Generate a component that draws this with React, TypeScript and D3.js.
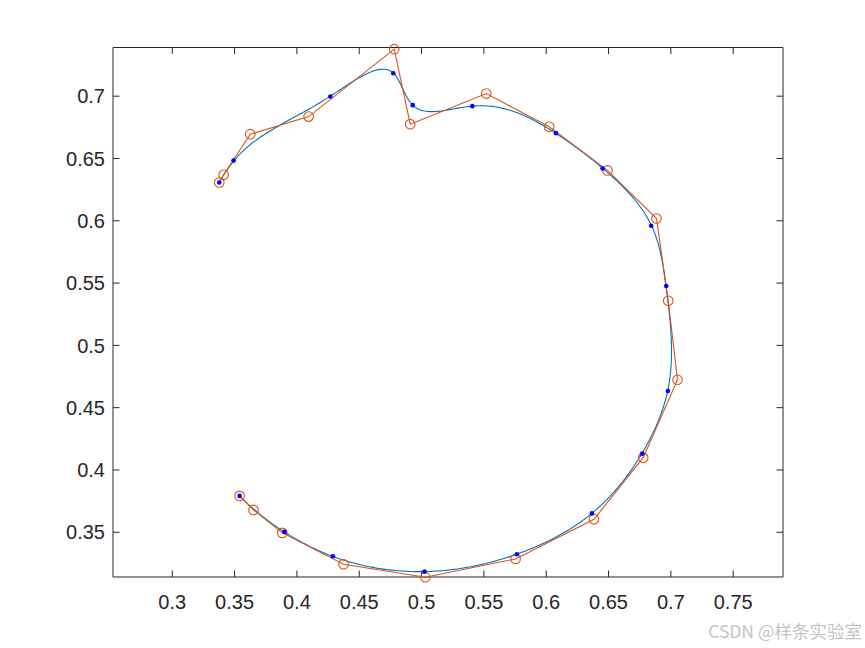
import React from "react";
import * as d3 from "d3";

// Orange: control polygon points
const ctrlX = [0.3377, 0.3412, 0.3626, 0.4094, 0.4781, 0.4909, 0.5519, 0.6024, 0.6492, 0.6885,
  0.6979, 0.7053, 0.6778, 0.6383, 0.5754, 0.5030, 0.4374, 0.3883, 0.3652, 0.3540];
const ctrlY = [0.6307, 0.6369, 0.6695, 0.6836, 0.7377, 0.6775, 0.7021, 0.6754, 0.6404, 0.6018,
  0.5358, 0.4724, 0.4099, 0.3604, 0.3286, 0.3139, 0.3243, 0.3495, 0.3679, 0.3792];

// Blue: data points interpolated by the spline
const dataX = [0.3377, 0.3492, 0.4268, 0.4773, 0.4929, 0.5407, 0.6078, 0.6452, 0.6842, 0.6963,
  0.6976, 0.6770, 0.6367, 0.5765, 0.5024, 0.4289, 0.3899, 0.3540];
const dataY = [0.6307, 0.6483, 0.6997, 0.7184, 0.6928, 0.6920, 0.6703, 0.6420, 0.5960, 0.5476,
  0.4634, 0.4131, 0.3652, 0.3323, 0.3184, 0.3307, 0.3503, 0.3792];

const xTicks = [0.3, 0.35, 0.4, 0.45, 0.5, 0.55, 0.6, 0.65, 0.7, 0.75];
const yTicks = [0.35, 0.4, 0.45, 0.5, 0.55, 0.6, 0.65, 0.7];

const W = 865, H = 648;
const L = 113, R = 783, T = 47.5, B = 577;

function bsplineCurve(): [number, number][] {
  const n = ctrlX.length;
  const p = 3;
  // chord-length parameters from data points
  const d: number[] = [0];
  for (let i = 1; i < dataX.length; i++) {
    d.push(d[i - 1] + Math.hypot(dataX[i] - dataX[i - 1], dataY[i] - dataY[i - 1]));
  }
  const total = d[d.length - 1];
  const t = d.map((v) => v / total);
  const U = [0, 0, 0, ...t, 1, 1, 1];
  const pts: [number, number][] = [];
  const N = 800;
  for (let s = 0; s <= N; s++) {
    const u = s / N;
    let k = p;
    if (u >= 1) k = n - 1;
    else {
      for (let j = p; j < n; j++) {
        if (U[j] <= u && u < U[j + 1]) { k = j; break; }
      }
    }
    const dx: number[] = [], dy: number[] = [];
    for (let j = 0; j <= p; j++) { dx.push(ctrlX[j + k - p]); dy.push(ctrlY[j + k - p]); }
    for (let r = 1; r <= p; r++) {
      for (let j = p; j >= r; j--) {
        const i = j + k - p;
        const den = U[i + p - r + 1] - U[i];
        const a = den === 0 ? 0 : (u - U[i]) / den;
        dx[j] = (1 - a) * dx[j - 1] + a * dx[j];
        dy[j] = (1 - a) * dy[j - 1] + a * dy[j];
      }
    }
    pts.push([dx[p], dy[p]]);
  }
  return pts;
}

export default function App() {
  const x = d3.scaleLinear().domain([0.2527, 0.7902]).range([L + 0.3, R + 0.3]);
  const y = d3.scaleLinear().domain([0.3141, 0.7397]).range([B, T - 0.8]);
  const line = d3.line<[number, number]>().x((d) => x(d[0])).y((d) => y(d[1]));
  const curve = bsplineCurve();
  const ctrl: [number, number][] = ctrlX.map((v, i) => [v, ctrlY[i]]);
  const font = "'Liberation Sans', Arial, sans-serif";
  const axisColor = "#262626";
  return (
    <svg width={W} height={H} style={{ position: "absolute", left: 0, top: 0, background: "#fff" }}>
      <rect x={0} y={0} width={W} height={H} fill="#fff" />
      {/* ticks */}
      {xTicks.map((v) => (
        <g key={"xt" + v}>
          <line x1={x(v)} x2={x(v)} y1={B} y2={B - 6.5} stroke={axisColor} strokeWidth={1} />
          <line x1={x(v)} x2={x(v)} y1={T} y2={T + 6.5} stroke={axisColor} strokeWidth={1} />
          <text x={x(v)} y={608.5} textAnchor="middle" fontFamily={font} fontSize={20} fill={axisColor}>
            {String(v)}
          </text>
        </g>
      ))}
      {yTicks.map((v) => (
        <g key={"yt" + v}>
          <line x1={L} x2={L + 6.5} y1={y(v)} y2={y(v)} stroke={axisColor} strokeWidth={1} />
          <line x1={R} x2={R - 6.5} y1={y(v)} y2={y(v)} stroke={axisColor} strokeWidth={1} />
          <text x={105} y={y(v) + 7.2} textAnchor="end" fontFamily={font} fontSize={20} fill={axisColor}>
            {String(v)}
          </text>
        </g>
      ))}
      {/* box */}
      <line x1={L} x2={R} y1={T} y2={T} stroke={axisColor} strokeWidth={1} />
      <line x1={L} x2={R} y1={B} y2={B} stroke={axisColor} strokeWidth={1} />
      <line x1={L} x2={L} y1={T} y2={B} stroke={axisColor} strokeWidth={1} />
      <line x1={R} x2={R} y1={T} y2={B} stroke={axisColor} strokeWidth={1} />
      <g>
        <path d={line(curve) || ""} fill="none" stroke="#0072BD" strokeWidth={1.1} />
        <path d={line(ctrl) || ""} fill="none" stroke="#D95319" strokeWidth={1.1} />
        {ctrl.map((c, i) => (
          <circle key={"c" + i} cx={x(c[0])} cy={y(c[1])} r={4.8} fill="none" stroke="#D95319" strokeWidth={1.1} />
        ))}
        {dataX.map((v, i) => (
          <circle key={"d" + i} cx={x(v)} cy={y(dataY[i])} r={2.3} fill="#0000FF" />
        ))}
      </g>
      <text x={862} y={638} textAnchor="end" fontFamily="'Noto Sans CJK SC', 'Noto Sans', sans-serif" fontSize={17.5} fill="#c4c4c4">
        CSDN @样条实验室
      </text>
    </svg>
  );
}
